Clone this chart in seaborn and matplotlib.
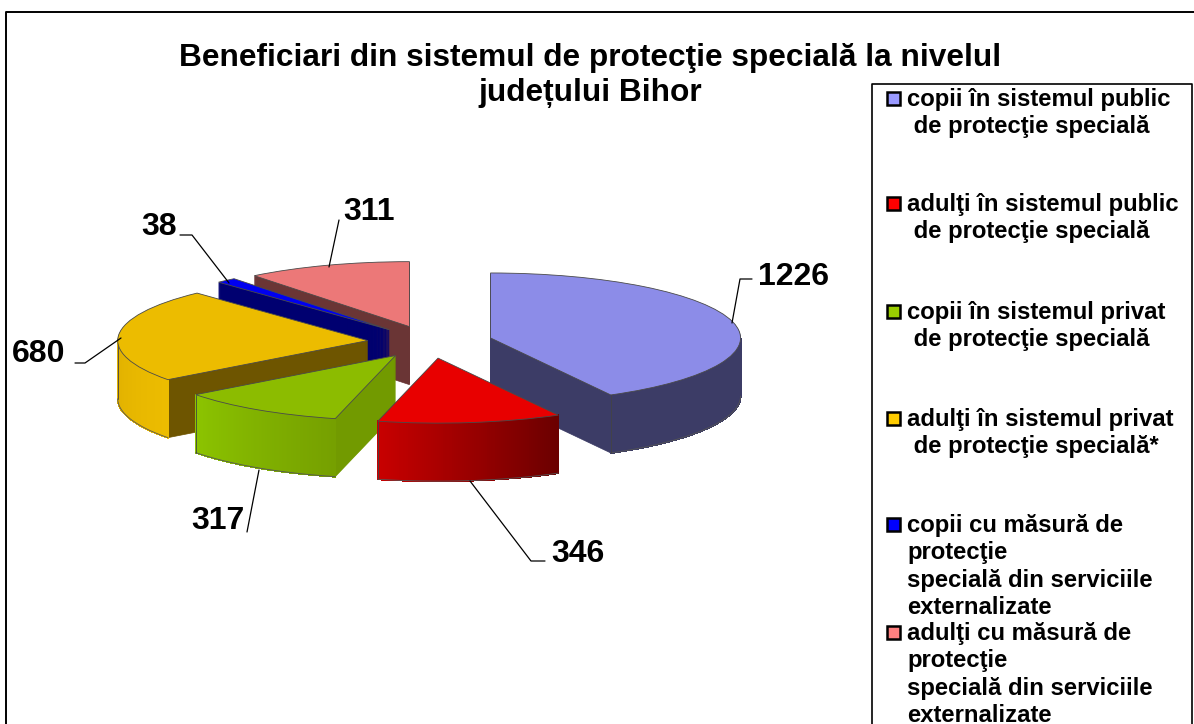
import matplotlib
matplotlib.use('Agg')
import matplotlib.pyplot as plt
import numpy as np
import seaborn as sns

title = 'Beneficiari din sistemul de protecţie specială la nivelul\njudețului Bihor'
categories = ['copii în sistemul public\n de protecţie specială',
              'adulţi în sistemul public\n de protecţie specială',
              'copii în sistemul privat\n de protecţie specială',
              'adulţi în sistemul privat\n de protecţie specială*',
              'copii cu măsură de\nprotecţie\nspecială din serviciile\nexternalizate',
              'adulţi cu măsură de\nprotecţie\nspecială din serviciile\nexternalizate']
values = [1226, 346, 317, 680, 38, 311]

# colours per slice
top_colors = ['#8c8ce8', '#e80000', '#8cbc00', '#ecbc00', '#0000f0', '#ec7878']
cut_colors = ['#3c3c66', '#8c0000', '#729a00', '#6e5500', '#000070', '#6a3535']
side_left = ['#3c3c66', '#c80000', '#8cc400', '#e0b000', '#000070', '#6a3535']
side_right = ['#3c3c66', '#6c0000', '#76a000', '#ecbc00', '#000070', '#6a3535']
legend_colors = ['#9999ff', '#ff0000', '#99cc00', '#ffcc00', '#0000ff', '#ff8080']

# back to front drawing order
draw_rank = [3, 5, 4, 2, 1, 0]

W, H = 1194, 724
RX, RY = 250, 65  # pixels per pie unit
CX, CY = 430, 342
DEPTH = 58

sns.set_theme(style='white')
plt.rcParams['font.family'] = ['Liberation Sans', 'DejaVu Sans']

fig = plt.figure(figsize=(W / 100, H / 100), dpi=100, facecolor='white')
ax = fig.add_axes([0, 0, 1, 1])
step = 1 / RY
pie_args = dict(explode=[0.25] * len(values), startangle=90, counterclock=False, frame=True)

# extruded body, one pie per pixel of depth
for k in range(DEPTH, 0, -1):
    wedges, _ = ax.pie(values, colors=cut_colors, center=(0, -k * step), **pie_args)
    for i, w in enumerate(wedges):
        w.set_edgecolor(cut_colors[i])
        w.set_linewidth(0.5)
        w.set_zorder(draw_rank[i] * 100 + 1)

# top faces
wedges, _ = ax.pie(values, colors=top_colors, **pie_args)
for i, w in enumerate(wedges):
    w.set_edgecolor('#4a4a4a')
    w.set_linewidth(0.6)
    w.set_zorder(draw_rank[i] * 100 + 3)

    # outer wall
    th = np.radians(np.linspace(w.theta1, w.theta2, 90))
    th = th[np.sin(th) < 0]
    if len(th) < 2:
        continue
    xs = w.center[0] + w.r * np.cos(th)
    ys = w.center[1] + w.r * np.sin(th)
    order = np.argsort(xs)
    xs, ys = xs[order], ys[order]
    shades = sns.blend_palette([side_left[i], side_right[i]], len(xs) - 1)
    d = DEPTH * step
    for j, c in enumerate(shades):
        ax.fill([xs[j], xs[j + 1], xs[j + 1], xs[j]],
                [ys[j], ys[j + 1], ys[j + 1] - d, ys[j] - d],
                color=c, lw=0.8, antialiased=False, zorder=draw_rank[i] * 100 + 2)
    ax.plot(xs, ys - d, color='#555555', lw=0.6, zorder=draw_rank[i] * 100 + 2)
    ax.plot([xs[0], xs[0]], [ys[0], ys[0] - d], color='#444444', lw=0.6, zorder=draw_rank[i] * 100 + 2)

ax.set_aspect('auto')
ax.set_xlim(-CX / RX, (W - CX) / RX)
ax.set_ylim(-(H - CY) / RY, CY / RY)
ax.axis('off')

# overlay in pixel coords for the text and the frames
ov = fig.add_axes([0, 0, 1, 1], zorder=10)
ov.set_xlim(0, W)
ov.set_ylim(H, 0)
ov.axis('off')
ov.patch.set_alpha(0)

ov.plot([6, 6, W], [H, 12, 12], color='black', lw=1.4)
ov.plot([872, 872, 1192, 1192], [H, 84, 84, 724], color='black', lw=1.2)

ov.text(590, 58, title.split('\n')[0], ha='center', va='center', fontsize=22.8, fontweight='bold', color='black')
ov.text(590, 93, title.split('\n')[1], ha='center', va='center', fontsize=22.8, fontweight='bold', color='black')

# value labels and leader lines
label_pos = [(793, 277), (578, 554), (218, 521), (39, 354), (159, 227), (369, 212)]
leaders = [[(752, 279), (740, 279), (732, 323)],
           [(545, 561), (531, 561), (470, 481)],
           [(247, 532), (259, 470)],
           [(75, 363), (85, 363), (121, 338)],
           [(180, 235), (192, 235), (229, 283)],
           [(339, 220), (329, 267)]]
for v, (lx, ly), pts in zip(values, label_pos, leaders):
    ov.text(lx, ly, str(v), ha='center', va='center', fontsize=23, fontweight='bold', color='black')
    ov.plot([p[0] for p in pts], [p[1] for p in pts], color='black', lw=0.9)

# legend
swatch_y = [92, 197, 305, 412, 518, 626]
for name, c, y in zip(categories, legend_colors, swatch_y):
    ov.add_patch(plt.Rectangle((887, y), 13, 13, facecolor=c, edgecolor='black', lw=1.8))
    ov.text(907, y - 4, name, ha='left', va='top', fontsize=17.2, fontweight='bold',
            color='black', linespacing=1.24)

fig.savefig('out.png', dpi=100)
